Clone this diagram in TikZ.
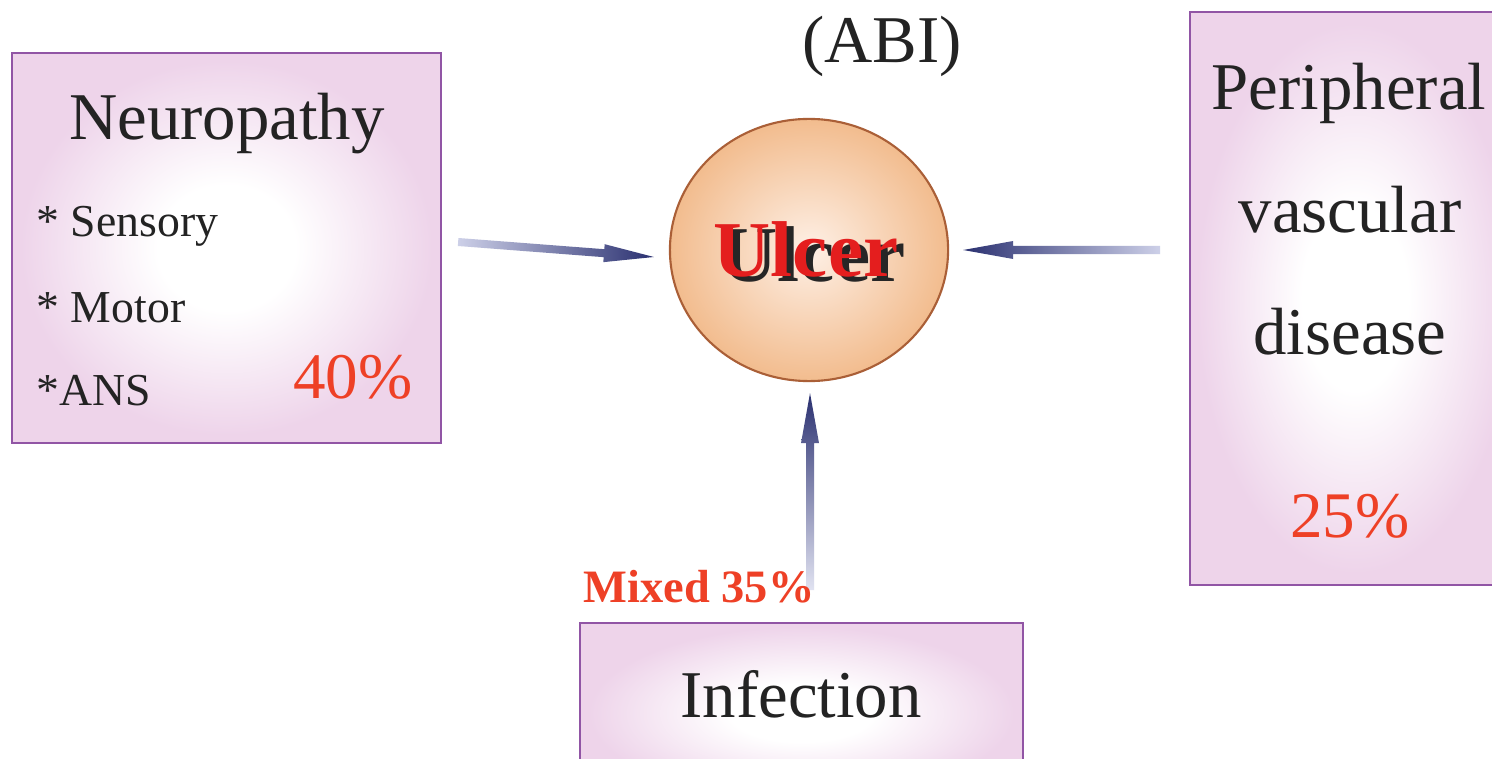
\documentclass[tikz,border=0pt]{standalone}
\usepackage{fontspec}
\setmainfont{Liberation Serif}
\usetikzlibrary{positioning,calc,shapes.geometric}

\definecolor{boxpink}{RGB}{238,212,234}
\definecolor{boxline}{RGB}{145,85,165}
\definecolor{ballin}{RGB}{254,240,230}
\definecolor{ballout}{RGB}{242,188,142}
\definecolor{ballline}{RGB}{170,95,55}
\definecolor{arrownavy}{RGB}{42,48,112}
\definecolor{fadelav}{RGB}{205,208,232}
\definecolor{pctred}{RGB}{238,64,38}
\definecolor{inkgray}{RGB}{35,35,35}
\definecolor{ulcerred}{RGB}{228,30,30}

\pgfdeclareradialshading{boxglow}{\pgfpoint{0bp}{0bp}}{color(0bp)=(white); color(8bp)=(white); color(24bp)=(boxpink); color(50bp)=(boxpink)}

% shaded arrow from #1 (tail) to #2 (tip)
\newcommand{\fadearrow}[3]{%
  \coordinate (fa-back) at ($(#2)!0.5cm!(#1)$);
  \shade[#3] ($(#1)!0.04cm!90:(#2)$) -- ($(fa-back)!0.04cm!90:(#2)$)
    -- ($(fa-back)!0.09cm!90:(#2)$) -- (#2)
    -- ($(fa-back)!0.09cm!-90:(#2)$) -- ($(fa-back)!0.04cm!-90:(#2)$)
    -- ($(#1)!0.04cm!-90:(#2)$) -- cycle;}

\begin{document}
\begin{tikzpicture}[x=0.01cm,y=-0.01cm,
  causebox/.style={rectangle,draw=boxline,line width=0.6pt,shade,shading=boxglow,inner sep=0pt,outer sep=0pt},
  bigtext/.style={font=\fontsize{19}{23}\selectfont,text=inkgray,anchor=base,inner sep=0pt},
  itemtext/.style={font=\fontsize{13}{16}\selectfont,text=inkgray,anchor=base west,inner sep=0pt},
  pcttext/.style={font=\fontsize{18.5}{22}\selectfont,text=pctred,anchor=base,inner sep=0pt},
  ulcerfont/.style={font=\fontsize{22.5}{26}\selectfont\bfseries,inner sep=0pt}]
		\clip (0,0) rectangle (1492,758);
		\fill[white] (0,0) rectangle (1492,758);
		% cause boxes
		\node[causebox,minimum width=4.29cm,minimum height=3.90cm] (neuro) at (226.5,248) {};
		\node[causebox,minimum width=3.30cm,minimum height=5.73cm] (pvd) at (1355,298.5) {};
		\node[causebox,minimum width=4.43cm,minimum height=1.80cm] (infect) at (801.5,713) {};
		% ulcer
		\node[ellipse,draw=ballline,line width=0.6pt,inner color=ballin,outer color=ballout,
		  minimum width=2.78cm,minimum height=2.62cm,inner sep=0pt] (ulcer) at (809,250) {};
		\node[ulcerfont,text=black!85] (ulcer-shadow) at ($(ulcer)+(4,4)$) {Ulcer};
		\node[ulcerfont,text=ulcerred] (ulcer-text) at ($(ulcer)+(-3,-1)$) {Ulcer};
		% arrows
		\coordinate (neuro-out) at ($(neuro.east)+(17,-6)$);
		\coordinate (neuro-in) at ($(ulcer.west)+(-15,7)$);
		\coordinate (pvd-out) at (1160,250);
		\coordinate (pvd-in) at ($(ulcer.east)+(14,0)$);
		\coordinate (infect-out) at (810,590);
		\coordinate (infect-in) at ($(ulcer.south)+(1,11)$);
		\fadearrow{neuro-out}{neuro-in}{left color=fadelav,right color=arrownavy}
		\fadearrow{pvd-out}{pvd-in}{left color=arrownavy,right color=fadelav}
		\fadearrow{infect-out}{infect-in}{top color=arrownavy,bottom color=fadelav!60!white}
		% texts
		\node[bigtext] (abi) at (882,63) {(ABI)};
		\node[bigtext] (neuro-title) at (227,140) {Neuropathy};
		\node[itemtext] (sensory) at (36,237) {* Sensory};
		\node[itemtext] (motor) at (36,322) {* Motor};
		\node[itemtext] (ans) at (36,405) {*ANS};
		\node[pcttext,anchor=base east] (neuro-pct) at (413,398) {40\%};
		\node[bigtext] (pvd-1) at (1349,110) {Peripheral};
		\node[bigtext] (pvd-2) at (1350,233) {vascular};
		\node[bigtext] (pvd-3) at (1350,354) {disease};
		\node[pcttext] (pvd-pct) at (1350,537) {25\%};
		\node[bigtext] (infect-title) at (801,717) {Infection};
		\node[font=\fontsize{13.2}{16}\selectfont\bfseries,text=pctred,anchor=base west,inner sep=0pt] (mixed) at (583,602) {Mixed 35\%};
		\end{tikzpicture}
\end{document}
